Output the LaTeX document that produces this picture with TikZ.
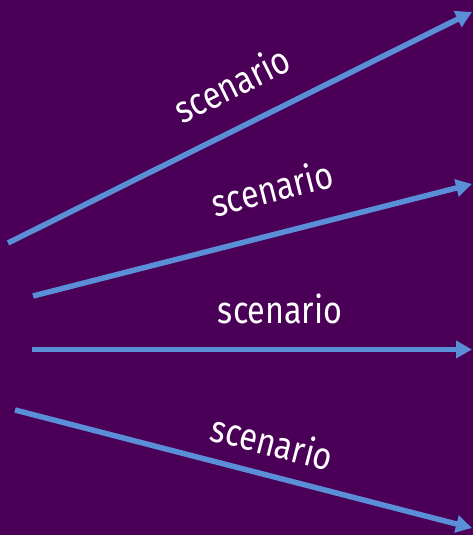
\documentclass[tikz,border=0pt]{standalone}
\usepackage{fontspec}
\setmainfont[FakeStretch=0.85]{Fira Sans}
\usetikzlibrary{arrows.meta}
\definecolor{bgpurple}{HTML}{4B0058}
\definecolor{arrowblue}{HTML}{5A8FD8}

\begin{document}
\begin{tikzpicture}[x=1pt, y=1pt, >={Triangle[length=16pt, width=17pt]}, scen/.style={->, line width=5.5pt, draw=arrowblue}, lbl/.style={text=white, inner sep=0pt, sloped, font={\fontsize{38}{40}\selectfont}}]
	\useasboundingbox (0,0) rectangle (473,535);
	\fill[bgpurple] (0,0) rectangle (473,535);
	\coordinate (s1) at (8,292);
	\coordinate (e1) at (472,523);
	\coordinate (s2) at (33,239);
	\coordinate (e2) at (472,351);
	\coordinate (s3) at (32,185.5);
	\coordinate (e3) at (472,185.5);
	\coordinate (s4) at (15,125);
	\coordinate (e4) at (472,7);
	\draw[scen] (s1) -- (e1) node[lbl, pos=.523, above=25pt] (l1) {scenario};
	\draw[scen] (s2) -- (e2) node[lbl, pos=.57, above=28pt] (l2) {scenario};
	\draw[scen] (s3) -- (e3) node[lbl, pos=.564, above=23pt] (l3) {scenario};
	\draw[scen] (s4) -- (e4) node[lbl, pos=.545, above=16pt] (l4) {scenario};
\end{tikzpicture}
\end{document}
